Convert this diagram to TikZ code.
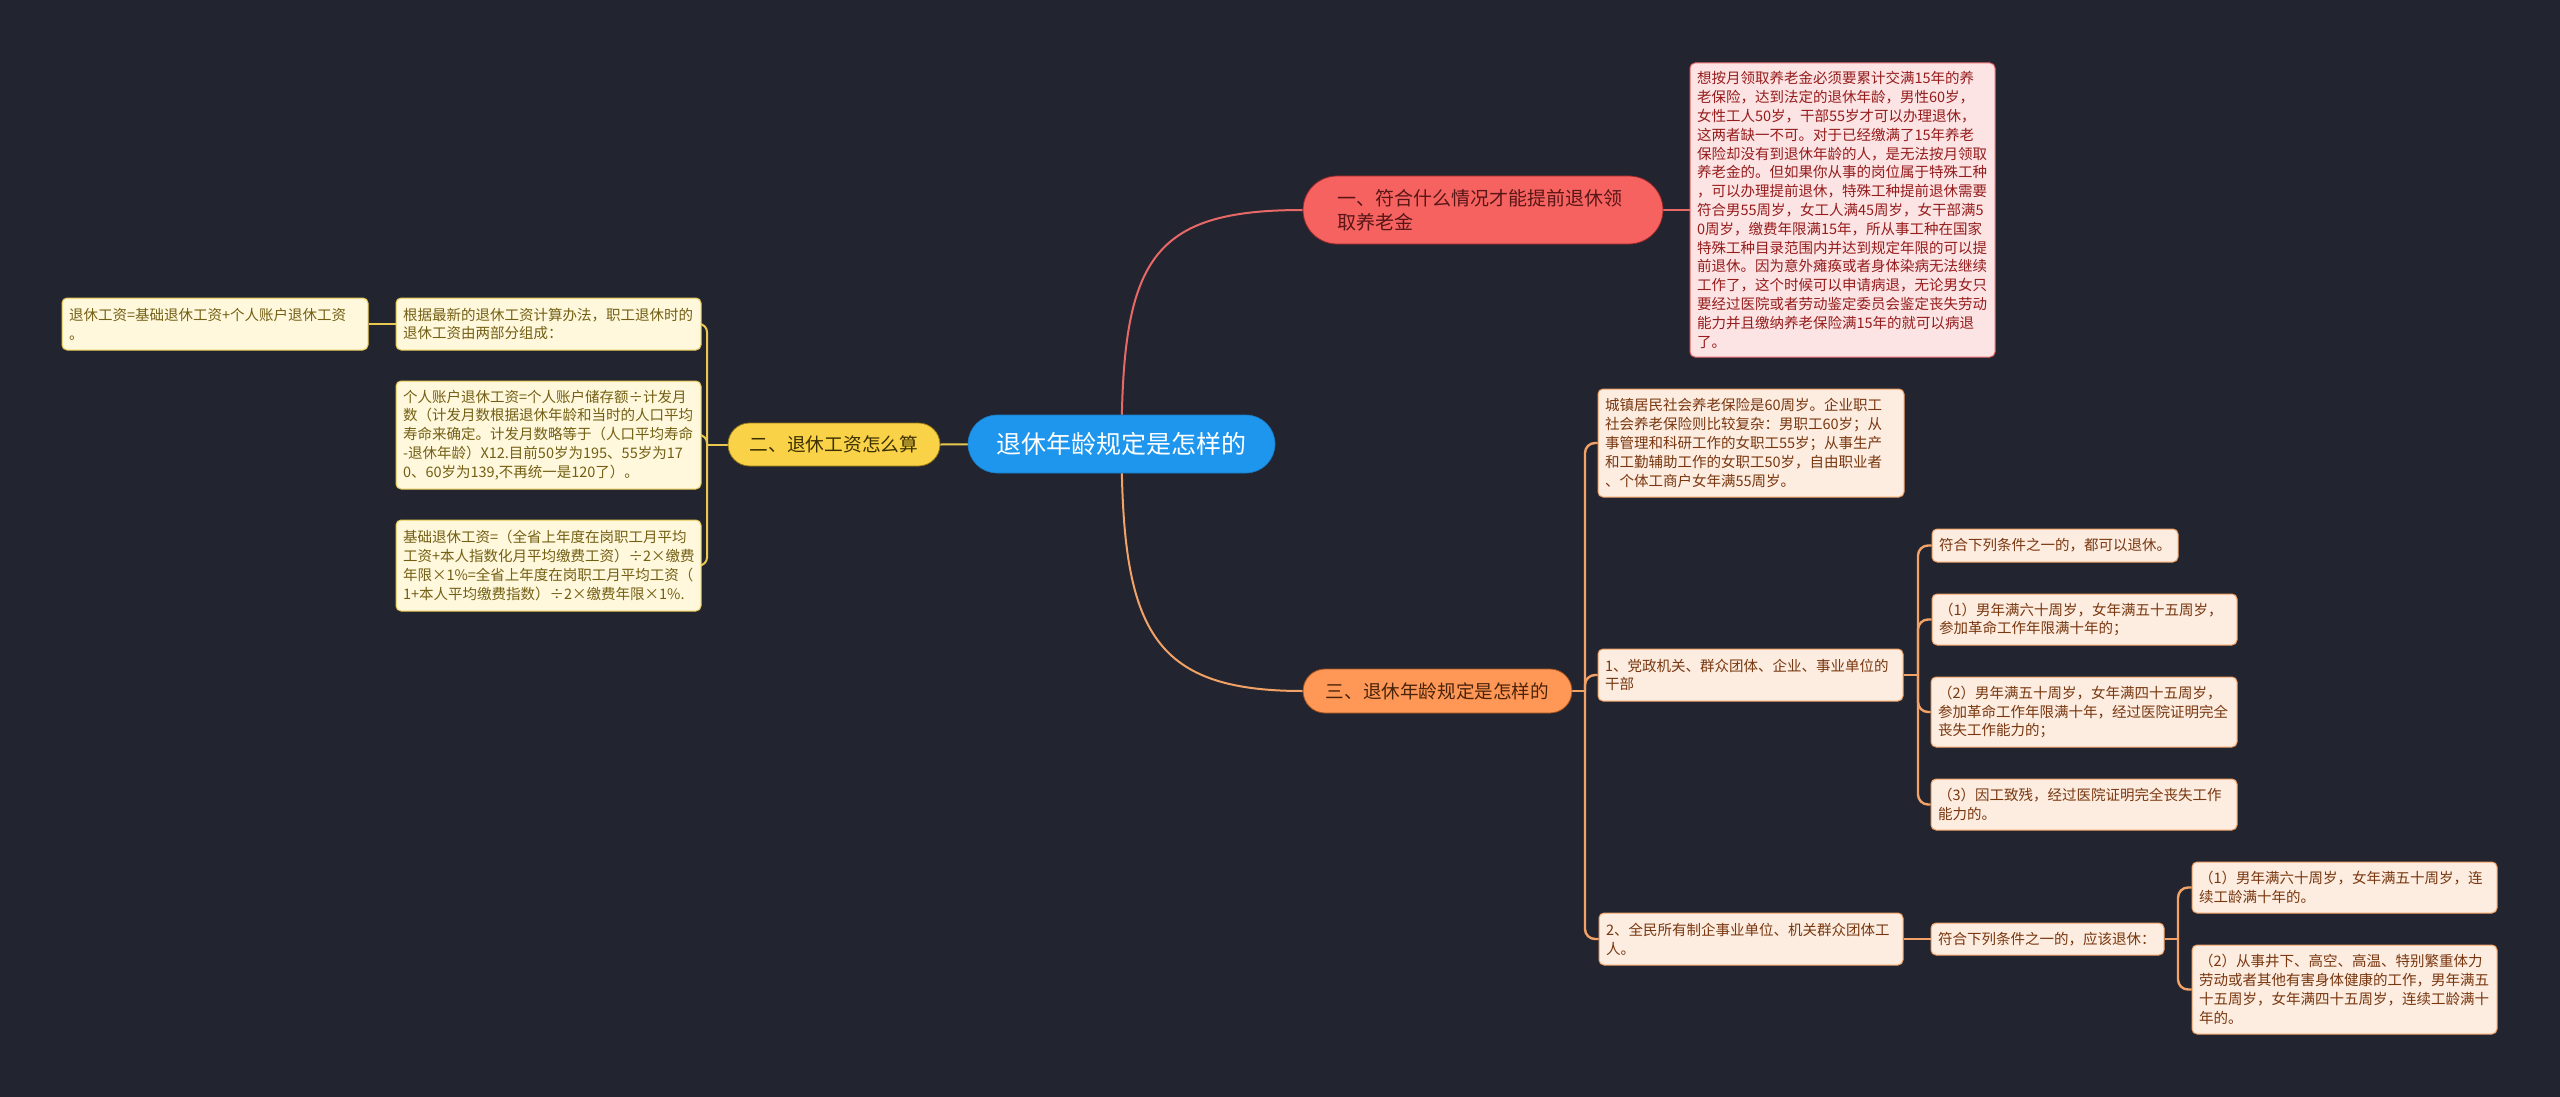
\documentclass[tikz,border=0pt]{standalone}
\usepackage{fontspec}
\setmainfont{Noto Sans CJK SC}
\usetikzlibrary{backgrounds}
\definecolor{bgc}{RGB}{34,37,48}
\definecolor{rootc}{RGB}{30,150,238}
\definecolor{redc}{RGB}{246,98,96}
\definecolor{redd}{RGB}{150,40,40}
\definecolor{redline}{RGB}{232,104,104}
\definecolor{redfill}{RGB}{252,228,228}
\definecolor{redtxt}{RGB}{150,28,28}
\definecolor{yelc}{RGB}{249,210,72}
\definecolor{yeld}{RGB}{150,120,20}
\definecolor{yelline}{RGB}{232,200,80}
\definecolor{yelfill}{RGB}{255,248,220}
\definecolor{yeltxt}{RGB}{115,95,20}
\definecolor{orac}{RGB}{255,152,86}
\definecolor{orad}{RGB}{160,80,30}
\definecolor{oraline}{RGB}{242,162,102}
\definecolor{orafill}{RGB}{253,236,224}
\definecolor{oratxt}{RGB}{120,55,15}
\begin{document}
\begin{tikzpicture}[x=1pt,y=-1pt,
  basebox/.style={draw, rounded corners=5pt, line width=1pt, inner xsep=7pt, inner ysep=0pt, align=left, font=\fontsize{14.5}{18.8}\selectfont},
  ybox/.style={basebox, fill=yelfill, draw=yelline, text=yeltxt},
  obox/.style={basebox, fill=orafill, draw=oraline, text=oratxt},
  rbox/.style={basebox, fill=redfill, draw=redline, text=redtxt},
  yl/.style={draw=yelline, line width=2pt, rounded corners=8pt},
  ol/.style={draw=oraline, line width=2.4pt, rounded corners=10pt},
  rl/.style={draw=redline, line width=2pt},
]
\useasboundingbox (0,0) rectangle (2560,1097);

% main nodes
\node[fill=rootc, draw=rootc!80!black, line width=0.6pt, rounded corners=29pt, minimum width=307pt, minimum height=58pt, inner sep=0pt, text=white, font=\fontsize{25}{30}\selectfont] (root) at (1121.5,444) {退休年龄规定是怎样的};
\node[fill=redc, draw=redd, line width=0.8pt, rounded corners=34pt, text width=292pt, inner xsep=34pt, inner ysep=0pt, minimum height=68pt, align=left, text={rgb,255:red,88;green,22;blue,22}, font=\fontsize{19}{24}\selectfont] (n1) at (1483,210) {一、符合什么情况才能提前退休领\\取养老金};
\node[fill=yelc, draw=yeld, line width=0.8pt, rounded corners=21.5pt, minimum width=212pt, minimum height=43pt, inner sep=0pt, text={rgb,255:red,60;green,48;blue,0}, font=\fontsize{18.7}{22}\selectfont] (n2) at (834,444.5) {二、退休工资怎么算};
\node[fill=orac, draw=orad, line width=0.8pt, rounded corners=22pt, minimum width=269pt, minimum height=44pt, inner sep=0pt, text={rgb,255:red,75;green,35;blue,10}, font=\fontsize{18.6}{22}\selectfont] (n3) at (1437.5,691) {三、退休年龄规定是怎样的};

% red branch
\node[rbox, text width=291pt, minimum height=294pt] (rb) at (1842.5,210) {想按月领取养老金必须要累计交满15年的养\\老保险，达到法定的退休年龄，男性60岁，\\女性工人50岁，干部55岁才可以办理退休，\\这两者缺一不可。对于已经缴满了15年养老\\保险却没有到退休年龄的人，是无法按月领取\\养老金的。但如果你从事的岗位属于特殊工种\\，可以办理提前退休，特殊工种提前退休需要\\符合男55周岁，女工人满45周岁，女干部满5\\0周岁，缴费年限满15年，所从事工种在国家\\特殊工种目录范围内并达到规定年限的可以提\\前退休。因为意外瘫痪或者身体染病无法继续\\工作了，这个时候可以申请病退，无论男女只\\要经过医院或者劳动鉴定委员会鉴定丧失劳动\\能力并且缴纳养老保险满15年的就可以病退\\了。};

% yellow branch
\node[ybox, text width=292pt, minimum height=52pt] (ya) at (215,324) {退休工资=基础退休工资+个人账户退休工资\\。};
\node[ybox, text width=291pt, minimum height=52pt] (yb) at (548.5,324) {根据最新的退休工资计算办法，职工退休时的\\退休工资由两部分组成：};
\node[ybox, text width=291pt, minimum height=108pt] (yc) at (548.5,435) {个人账户退休工资=个人账户储存额÷计发月\\数（计发月数根据退休年龄和当时的人口平均\\寿命来确定。计发月数略等于（人口平均寿命\\-退休年龄）X12.目前50岁为195、55岁为17\\0、60岁为139,不再统一是120了）。};
\node[ybox, text width=291pt, minimum height=91pt] (yd) at (548.5,565.5) {基础退休工资=（全省上年度在岗职工月平均\\工资+本人指数化月平均缴费工资）÷2×缴费\\年限×1\%=全省上年度在岗职工月平均工资（\\1+本人平均缴费指数）÷2×缴费年限×1\%.};

% orange branch
\node[obox, text width=292pt, minimum height=108pt] (oa) at (1751,443) {城镇居民社会养老保险是60周岁。企业职工\\社会养老保险则比较复杂：男职工60岁；从\\事管理和科研工作的女职工55岁；从事生产\\和工勤辅助工作的女职工50岁，自由职业者\\、个体工商户女年满55周岁。};
\node[obox, text width=291pt, minimum height=52pt] (ob) at (1750.5,675) {1、党政机关、群众团体、企业、事业单位的\\干部};
\node[obox, text width=232pt, minimum height=33pt] (fa) at (2055,545.5) {符合下列条件之一的，都可以退休。};
\node[obox, text width=291pt, minimum height=51pt] (p1) at (2084.5,619.5) {（1）男年满六十周岁，女年满五十五周岁，\\参加革命工作年限满十年的；};
\node[obox, text width=292pt, minimum height=70pt] (p2) at (2084,712) {（2）男年满五十周岁，女年满四十五周岁，\\参加革命工作年限满十年，经过医院证明完全\\丧失工作能力的；};
\node[obox, text width=292pt, minimum height=51pt] (p3) at (2084,804.5) {（3）因工致残，经过医院证明完全丧失工作\\能力的。};
\node[obox, text width=290pt, minimum height=52pt] (oc) at (1751,939) {2、全民所有制企事业单位、机关群众团体工\\人。};
\node[obox, text width=219pt, minimum height=32pt] (fy) at (2047.5,939) {符合下列条件之一的，应该退休：};
\node[obox, text width=291pt, minimum height=51pt] (q1) at (2344.5,887.5) {（1）男年满六十周岁，女年满五十周岁，连\\续工龄满十年的。};
\node[obox, text width=291pt, minimum height=89pt] (q2) at (2344.5,989.5) {（2）从事井下、高空、高温、特别繁重体力\\劳动或者其他有害身体健康的工作，男年满五\\十五周岁，女年满四十五周岁，连续工龄满十\\年的。};

% junctions
\coordinate (j2) at (707,444.5);
\coordinate (j3) at (1585,691);
\coordinate (j1) at (1918,675);
\coordinate (j4) at (2178,939);

\begin{pgfonlayer}{background}
\fill[bgc] (0,0) rectangle (2560,1097);
% root branches
\draw[rl] (root.center) .. controls (1122,260) and (1150,210) .. (n1.west);
\draw[draw=oraline, line width=2pt] (root.center) .. controls (1122,628) and (1150,691) .. (n3.west);
\draw[draw=yelline, line width=2pt] (root.center) -- (n2.east);
% red
\draw[rl] (n1.east) -- (rb.west);
% yellow
\draw[yl] (n2.west) -- (j2);
\draw[yl] (j2) |- (yb.east);
\draw[yl] (j2) |- (yc.east);
\draw[yl] (j2) |- (yd.east);
\draw[yl] (ya.east) -- (yb.west);
% orange
\draw[ol] (n3.east) -- (j3);
\draw[ol] (j3) |- (oa.west);
\draw[ol] (j3) |- (ob.west);
\draw[ol] (j3) |- (oc.west);
\draw[ol] (ob.east) -- (j1);
\draw[ol] (j1) |- (fa.west);
\draw[ol] (j1) |- (p1.west);
\draw[ol] (j1) |- (p2.west);
\draw[ol] (j1) |- (p3.west);
\draw[ol] (oc.east) -- (fy.west);
\draw[ol] (fy.east) -- (j4);
\draw[ol] (j4) |- (q1.west);
\draw[ol] (j4) |- (q2.west);
\end{pgfonlayer}
\end{tikzpicture}
\end{document}
